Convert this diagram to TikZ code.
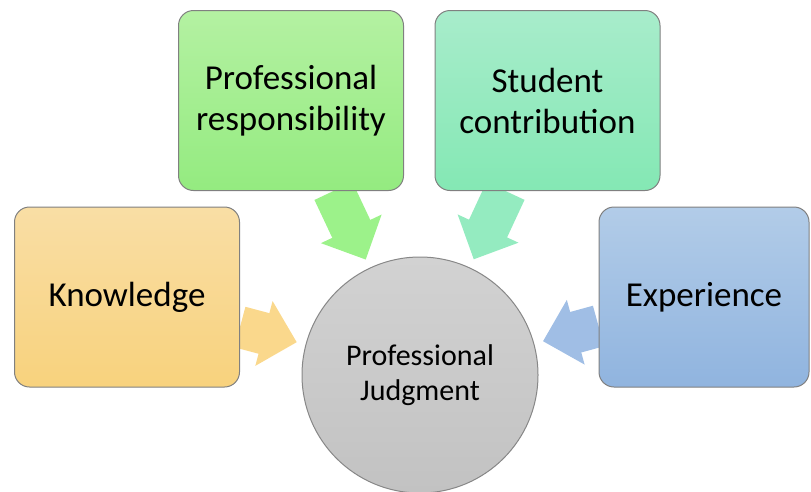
\documentclass[tikz,border=0pt]{standalone}
\usepackage{fontspec}
\setmainfont{Carlito}
\usetikzlibrary{arrows.meta,backgrounds}

\begin{document}
\begin{tikzpicture}[x=1pt,y=-1pt]
		% 颜色列表
		\definecolor{knowtop}{RGB}{249,222,165}
		\definecolor{knowbot}{RGB}{248,210,125}
		\definecolor{knowarr}{RGB}{250,216,140}
		\definecolor{resptop}{RGB}{180,241,162}
		\definecolor{respbot}{RGB}{148,235,128}
		\definecolor{resparr}{RGB}{156,242,138}
		\definecolor{studtop}{RGB}{168,236,203}
		\definecolor{studbot}{RGB}{132,232,180}
		\definecolor{studarr}{RGB}{148,235,192}
		\definecolor{exptop}{RGB}{178,204,232}
		\definecolor{expbot}{RGB}{144,180,223}
		\definecolor{exparr}{RGB}{160,190,229}
		\definecolor{hubtop}{RGB}{210,210,210}
		\definecolor{hubbot}{RGB}{194,194,194}
		\definecolor{boxline}{RGB}{128,128,128}
		\definecolor{hubline}{RGB}{135,135,135}
		
		\tikzset{
			box/.style={draw=boxline, line width=1pt, rounded corners=15pt,
				minimum width=225pt, minimum height=180pt, align=center,
				font=\fontsize{35}{41}\selectfont},
			hub/.style={circle, draw=hubline, line width=1pt, minimum size=236pt,
				top color=hubtop, bottom color=hubbot, align=center,
				font=\fontsize{30}{35}\selectfont},
			feed/.style={line width=42pt, -{Triangle[length=34pt,width=65pt]},
				shorten >=9pt}
		}
		\useasboundingbox (0,0) rectangle (811,491);
		
		% 中心圆
		\node[hub] (judg) at (420,375) {Professional\\Judgment};
		
		% 四个方框
		\node[box, top color=knowtop, bottom color=knowbot] (know) at (127,297) {Knowledge};
		\node[box, top color=resptop, bottom color=respbot] (resp) at (291,100.5) {Professional\\responsibility};
		\node[box, top color=studtop, bottom color=studbot] (stud) at (547.5,100.5) {Student\\contribution};
		\node[box, minimum width=210pt, top color=exptop, bottom color=expbot] (expr) at (704,297) {Experience};
		
		% 箭头(放在底层)
		\begin{scope}[on background layer]
			\draw[feed, draw=knowarr] (know) -- (judg);
			\draw[feed, draw=resparr] (resp) -- (judg);
			\draw[feed, draw=studarr] (stud) -- (judg);
			\draw[feed, draw=exparr] (expr) -- (judg);
		\end{scope}
		
\end{tikzpicture}
\end{document}
